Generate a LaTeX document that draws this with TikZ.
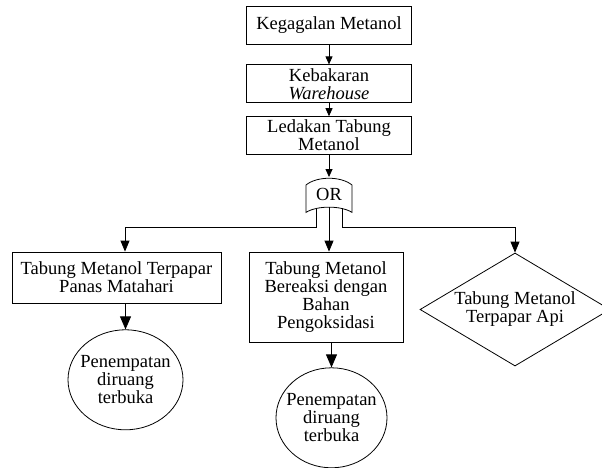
\documentclass[tikz,border=0pt]{standalone}
\usepackage{fontspec}
\setmainfont{Liberation Serif}
\usepackage{tikz}
\usetikzlibrary{shapes.geometric, arrows.meta, positioning}

\begin{document}
\begin{tikzpicture}[x=1pt, y=-1pt,
    event/.style={draw, line width=0.8pt, minimum width=165pt, minimum height=38pt,
                  inner sep=1pt, align=center, font=\fontsize{18.5}{18}\selectfont},
    cause/.style={draw, line width=0.8pt, inner sep=1pt, align=center,
                  font=\fontsize{18.5}{18}\selectfont},
    undev/.style={draw, diamond, aspect=1.68, line width=0.8pt, inner sep=0pt,
                  minimum width=190pt, minimum height=113pt, align=center,
                  font=\fontsize{18.5}{18}\selectfont},
    basic/.style={draw, ellipse, line width=0.8pt, inner xsep=-10pt, inner ysep=0pt,
                  minimum width=115pt, minimum height=100pt, align=center,
                  font=\fontsize{18.5}{18}\selectfont},
    arrow/.style={-{Triangle[length=8pt, width=7pt]}, line width=0.8pt},
    branch/.style={-{Triangle[length=11pt, width=9pt]}, line width=0.8pt},
    drop/.style={-{Triangle[length=13pt, width=11pt]}, line width=0.8pt}
]
\useasboundingbox (0,0) rectangle (602,468);

\node[event] (k1) at (329,25) {Kegagalan Metanol};
\node[event, below=20pt of k1] (k2) {Kebakaran\\\textit{Warehouse}};
\node[event, below=13pt of k2] (k3) {Ledakan Tabung\\Metanol};
\node[below=22pt of k3, minimum width=46pt, minimum height=35pt, inner sep=0pt,
      font=\fontsize{18.5}{18}\selectfont] (orgate) {OR};

% gerbang OR
\draw[line width=0.8pt] ([shift={(-23,8)}]orgate.north)
    .. controls ([shift={(-12,-1)}]orgate.north) and ([shift={(12,-1)}]orgate.north) .. ([shift={(23,8)}]orgate.north)
    -- ([shift={(23,0)}]orgate.south)
    .. controls ([shift={(12,-7)}]orgate.south) and ([shift={(-12,-7)}]orgate.south) .. ([shift={(-23,0)}]orgate.south)
    -- cycle;

\node[cause, minimum width=209pt, minimum height=51pt] (b1) at (116.5,277.5) {Tabung Metanol Terpapar\\Panas Matahari};
\node[cause, minimum width=154pt, minimum height=90pt] (b2) at (326,297) {Tabung Metanol\\Bereaksi dengan\\Bahan\\Pengoksidasi};
\node[undev] (d3) at (515,309.5) {Tabung Metanol\\Terpapar Api};

\node[basic, below=26pt of b1, xshift=9pt] (c1) {Penempatan\\diruang\\terbuka};
\node[basic, below=25pt of b2, xshift=5.5pt, minimum width=111pt] (c2) {Penempatan\\diruang\\terbuka};

\draw[arrow] (k1) -- (k2);
\draw[arrow] (k2) -- (k3);
\draw[arrow] (k3) -- (orgate.north);
\draw[branch] ([shift={(-13,-4)}]orgate.south) -- ++(0,19) -| ([shift={(8.5,0)}]b1.north);
\draw[branch] ([shift={(0,-5)}]orgate.south) -- (orgate.south |- b2.north);
\draw[branch] ([shift={(13,-4)}]orgate.south) -- ++(0,19) -| (d3.north);
\draw[drop] (b1.south -| c1.north) -- (c1.north);
\draw[drop] (b2.south -| c2.north) -- (c2.north);
\end{tikzpicture}
\end{document}
